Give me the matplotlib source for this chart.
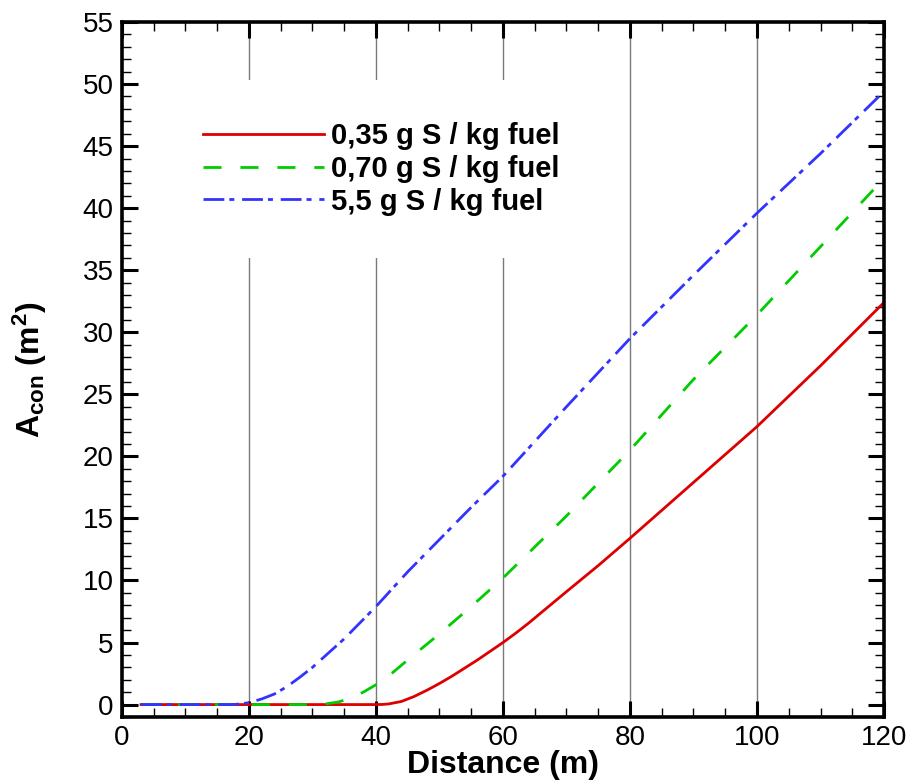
import matplotlib
matplotlib.use("Agg")
import matplotlib.pyplot as plt
from matplotlib.ticker import MultipleLocator

plt.rcParams['font.family'] = ['Liberation Sans', 'DejaVu Sans']
plt.rcParams['mathtext.fontset'] = 'custom'
plt.rcParams['mathtext.rm'] = 'Liberation Sans:bold'
plt.rcParams['mathtext.bf'] = 'Liberation Sans:bold'
plt.rcParams['mathtext.it'] = 'Liberation Sans:bold'

# Data
x_red = [3, 10, 20, 30, 40, 41, 42, 44, 46, 48, 50, 52, 54, 56, 58, 60, 62, 64, 66, 70, 75, 80, 90, 100, 110, 120]
y_red = [0, 0, 0, 0, 0, 0.01, 0.05, 0.25, 0.65, 1.15, 1.7, 2.3, 2.95, 3.6, 4.3, 5.0, 5.75, 6.55, 7.4, 9.1, 11.2, 13.4, 17.9, 22.4, 27.3, 32.4]

x_green = [3, 10, 20, 30, 32, 34, 36, 38, 40, 42, 45, 50, 55, 60, 70, 80, 90, 100, 110, 120]
y_green = [0, 0, 0, 0, 0.05, 0.2, 0.5, 1.0, 1.6, 2.3, 3.6, 5.7, 7.9, 10.2, 15.2, 20.5, 26.2, 31.4, 36.9, 42.4]

x_blue = [3, 10, 17, 18, 20, 22, 24, 26, 28, 30, 35, 40, 45, 50, 55, 60, 70, 80, 90, 100, 110, 120]
y_blue = [0, 0, 0, 0.02, 0.15, 0.45, 0.85, 1.45, 2.2, 3.0, 5.3, 7.9, 10.7, 13.3, 15.9, 18.4, 24.0, 29.5, 34.6, 39.6, 44.4, 49.4]

labels = ["0,35 g S / kg fuel", "0,70 g S / kg fuel", "5,5 g S / kg fuel"]
x_ticks = [0, 20, 40, 60, 80, 100, 120]
y_ticks = list(range(0, 56, 5))

fig = plt.figure(figsize=(9.09, 7.8), dpi=100)
ax = fig.add_axes([0.1342, 0.0808, 0.8383, 0.891])

for xv in [20, 40, 60, 80, 100]:
    ax.axvline(xv, color='#7a7a7a', lw=1.0, zorder=1)

ax.plot(x_red, y_red, color='#dd0000', lw=2.0, ls='-', label=labels[0], zorder=3)
ax.plot(x_green, y_green, color='#00cc00', lw=2.0, ls=(0, (6.5, 6.8)), label=labels[1], zorder=3)
ax.plot(x_blue, y_blue, color='#3333ff', lw=2.0, ls=(0, (7.5, 1.8, 1.8, 2.8)), label=labels[2], zorder=3)

ax.set_xlim(0, 120)
ax.set_ylim(-1, 55)
ax.set_xticks(x_ticks)
ax.set_yticks(y_ticks)
ax.xaxis.set_minor_locator(MultipleLocator(5))
ax.yaxis.set_minor_locator(MultipleLocator(1))
ax.tick_params(which='both', direction='in', top=True, right=True)
ax.tick_params(which='major', length=11.5, width=2.2, labelsize=20, pad=6)
ax.tick_params(which='minor', length=6.5, width=1.0)
for s in ax.spines.values():
    s.set_linewidth(2.6)
    s.set_zorder(5)

ax.set_xlabel('Distance (m)', fontsize=23, fontweight='bold', labelpad=-1)
ax.set_ylabel(r'A$_{\mathbf{con}}$ (m$^{\mathbf{2}}$)', fontsize=23, fontweight='bold', labelpad=24)

leg = ax.legend(loc='upper left', bbox_to_anchor=(0.051, 0.9165), borderaxespad=0,
                prop={'weight': 'bold', 'size': 21}, frameon=True, fancybox=False,
                handlelength=4.15, handletextpad=0.22, labelspacing=0.16, borderpad=1.45)
leg.get_frame().set_facecolor('white')
leg.get_frame().set_edgecolor('none')
leg.get_frame().set_alpha(1)
leg.set_zorder(4)

fig.savefig('out.png', dpi=100)
